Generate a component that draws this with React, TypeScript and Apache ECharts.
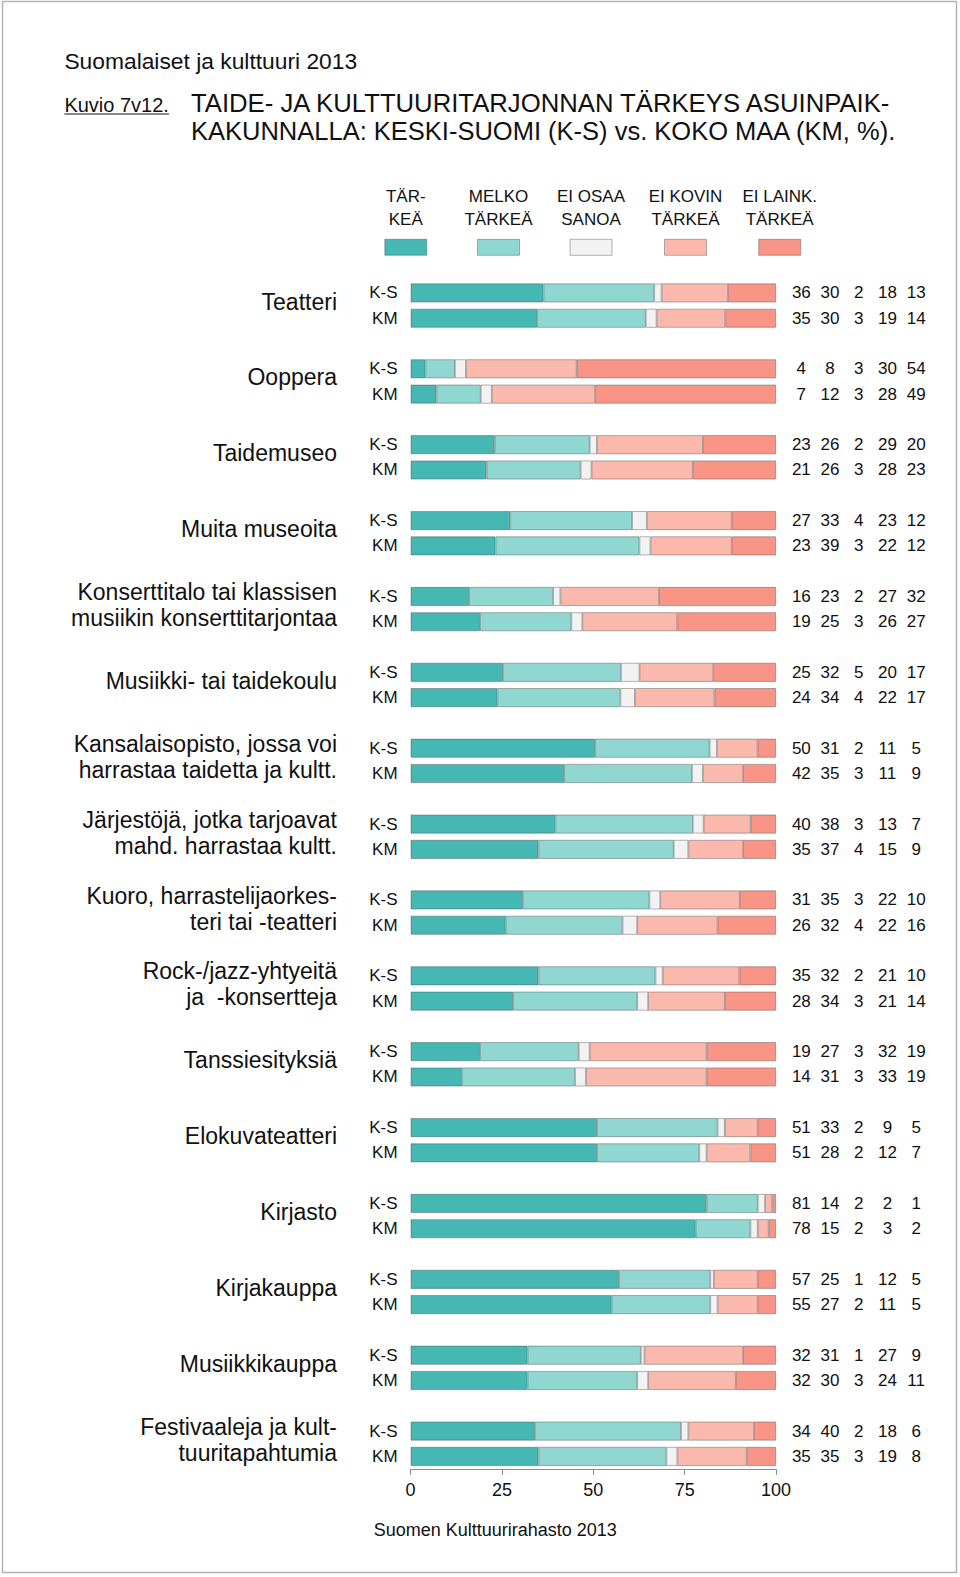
import React, { useEffect, useRef } from 'react';
import * as echarts from 'echarts';

const categories = [
  'Teatteri',
  'Ooppera',
  'Taidemuseo',
  'Muita museoita',
  'Konserttitalo tai klassisen\nmusiikin konserttitarjontaa',
  'Musiikki- tai taidekoulu',
  'Kansalaisopisto, jossa voi\nharrastaa taidetta ja kultt.',
  'Järjestöjä, jotka tarjoavat\nmahd. harrastaa kultt.',
  'Kuoro, harrastelijaorkes-\nteri tai -teatteri',
  'Rock-/jazz-yhtyeitä\nja  -konsertteja',
  'Tanssiesityksiä',
  'Elokuvateatteri',
  'Kirjasto',
  'Kirjakauppa',
  'Musiikkikauppa',
  'Festivaaleja ja kult-\ntuuritapahtumia',
];
const rowLabels = ['K-S', 'KM'];
const legendNames = ['TÄR-\nKEÄ', 'MELKO\nTÄRKEÄ', 'EI OSAA\nSANOA', 'EI KOVIN\nTÄRKEÄ', 'EI LAINK.\nTÄRKEÄ'];

// rows interleaved: K-S, KM for each category
const tarkea = [36, 35, 4, 7, 23, 21, 27, 23, 16, 19, 25, 24, 50, 42, 40, 35, 31, 26, 35, 28, 19, 14, 51, 51, 81, 78, 57, 55, 32, 32, 34, 35];
const melko = [30, 30, 8, 12, 26, 26, 33, 39, 23, 25, 32, 34, 31, 35, 38, 37, 35, 32, 32, 34, 27, 31, 33, 28, 14, 15, 25, 27, 31, 30, 40, 35];
const eiOsaa = [2, 3, 3, 3, 2, 3, 4, 3, 2, 3, 5, 4, 2, 3, 3, 4, 3, 4, 2, 3, 3, 3, 2, 2, 2, 2, 1, 2, 1, 3, 2, 3];
const eiKovin = [18, 19, 30, 28, 29, 28, 23, 22, 27, 26, 20, 22, 11, 11, 13, 15, 22, 22, 21, 21, 32, 33, 9, 12, 2, 3, 12, 11, 27, 24, 18, 19];
const eiLaink = [13, 14, 54, 49, 20, 23, 12, 12, 32, 27, 17, 17, 5, 9, 7, 9, 10, 16, 10, 14, 19, 19, 5, 7, 1, 2, 5, 5, 9, 11, 6, 8];
const xTicks = [0, 25, 50, 75, 100];

const colors = ['#45b8b3', '#90d7d2', '#f2f2f2', '#fbb9ae', '#f99587'];
const FONT = '"Liberation Sans", Arial, Helvetica, sans-serif';

export default function App() {
  const ref = useRef<HTMLDivElement>(null);

  useEffect(() => {
    if (!ref.current) return;
    const chart = echarts.init(ref.current, undefined, { renderer: 'svg' });
    const all = [tarkea, melko, eiOsaa, eiKovin, eiLaink];

    type Slot = { key: string; row: number; cat: number };
    const slots: Slot[] = [];
    categories.forEach((_, i) => {
      slots.push({ key: `c${i}-0`, row: 2 * i, cat: i });
      slots.push({ key: `c${i}-1`, row: 2 * i + 1, cat: i });
      if (i < categories.length - 1) slots.push({ key: `c${i}-gap`, row: -1, cat: i });
    });
    const totals = tarkea.map((_, r) => all.reduce((s, a) => s + a[r], 0));

    const series = all.map((arr, si) => ({
      type: 'bar',
      name: legendNames[si],
      stack: 'total',
      barWidth: 19,
      data: slots.map((s) => (s.row < 0 ? null : (arr[s.row] * 100) / totals[s.row])),
      itemStyle: {
        color: colors[si],
        borderColor: 'rgba(70,70,70,0.5)',
        borderWidth: 0.8,
      },
      label:
        si === all.length - 1
          ? {
              show: true,
              position: 'right',
              distance: 11,
              formatter: (p: any) => {
                const r = slots[p.dataIndex].row;
                if (r < 0) return '';
                return all.map((a) => `{c|${a[r]}}`).join('');
              },
              rich: {
                c: { width: 28.7, align: 'center', fontSize: 17, color: '#111', fontFamily: FONT },
              },
            }
          : { show: false },
    }));

    chart.setOption({
      animation: false,
      backgroundColor: '#ffffff',
      grid: { left: 410.6, right: 184, top: 280.3, bottom: 108, containLabel: false },
      xAxis: {
        type: 'value',
        min: xTicks[0],
        max: xTicks[xTicks.length - 1],
        interval: xTicks[1] - xTicks[0],
        axisLine: { show: true, lineStyle: { color: '#8c8c8c', width: 1 } },
        axisTick: { show: true, length: 6, lineStyle: { color: '#8c8c8c', width: 1 } },
        axisLabel: { fontSize: 18, color: '#111', margin: 12, fontFamily: FONT },
        splitLine: { show: false },
      },
      yAxis: {
        type: 'category',
        inverse: true,
        data: slots.map((s) => s.key),
        axisLine: { show: false },
        axisTick: { show: false },
        axisLabel: {
          fontSize: 17,
          color: '#111',
          margin: 13,
          fontFamily: FONT,
          formatter: (v: string) => (v.endsWith('-0') ? rowLabels[0] : v.endsWith('-1') ? rowLabels[1] : ''),
        },
      },
      series,
    });

    const elements: any[] = [];
    elements.push({
      type: 'rect',
      shape: { x: 2.5, y: 1.5, width: 954, height: 1571 },
      style: { fill: 'none', stroke: '#b3b3b3', lineWidth: 1.5 },
      silent: true,
    });
    elements.push({
      type: 'text',
      x: 64.4,
      y: 61.3,
      style: { text: 'Suomalaiset ja kulttuuri 2013', fontSize: 22.8, fontFamily: FONT, fill: '#111', align: 'left', verticalAlign: 'middle' },
    });
    elements.push({
      type: 'text',
      x: 64.4,
      y: 104.6,
      style: { text: 'Kuvio 7v12.', fontSize: 20, fontFamily: FONT, fill: '#111', align: 'left', verticalAlign: 'middle' },
    });
    elements.push({
      type: 'line',
      shape: { x1: 64.4, y1: 114, x2: 169, y2: 114 },
      style: { stroke: '#111', lineWidth: 1 },
    });
    elements.push({
      type: 'text',
      x: 191,
      y: 102.6,
      style: { text: 'TAIDE- JA KULTTUURITARJONNAN TÄRKEYS ASUINPAIK-', fontSize: 25.7, fontFamily: FONT, fill: '#111', align: 'left', verticalAlign: 'middle' },
    });
    elements.push({
      type: 'text',
      x: 191,
      y: 130.7,
      style: { text: 'KAKUNNALLA: KESKI-SUOMI (K-S) vs. KOKO MAA (KM, %).', fontSize: 25.5, fontFamily: FONT, fill: '#111', align: 'left', verticalAlign: 'middle' },
    });

    const legendX = [405.8, 498.5, 591, 685.5, 779.7];
    legendNames.forEach((n, i) => {
      elements.push({
        type: 'text',
        x: legendX[i],
        y: 208,
        style: { text: n, fontSize: 17, fontFamily: FONT, fill: '#111', align: 'center', verticalAlign: 'middle', lineHeight: 22.6 },
      });
      elements.push({
        type: 'rect',
        shape: { x: legendX[i] - 21, y: 239.3, width: 42, height: 16 },
        style: { fill: colors[i], stroke: 'rgba(70,70,70,0.5)', lineWidth: 0.8 },
      });
    });

    categories.forEach((c, i) => {
      const y0 = chart.convertToPixel({ yAxisIndex: 0 }, `c${i}-0`) as number;
      const y1 = chart.convertToPixel({ yAxisIndex: 0 }, `c${i}-1`) as number;
      elements.push({
        type: 'text',
        x: 337,
        y: (y0 + y1) / 2 - 4,
        style: { text: c, fontSize: 23, fontFamily: FONT, fill: '#111', align: 'right', verticalAlign: 'middle', lineHeight: 26 },
      });
    });

    elements.push({
      type: 'text',
      x: 495.3,
      y: 1529.5,
      style: { text: 'Suomen Kulttuurirahasto 2013', fontSize: 18, fontFamily: FONT, fill: '#111', align: 'center', verticalAlign: 'middle' },
    });

    chart.setOption({ graphic: { elements } });

    return () => chart.dispose();
  }, []);

  return <div ref={ref} style={{ position: 'absolute', left: 0, top: 0, width: 960, height: 1577 }} />;
}
